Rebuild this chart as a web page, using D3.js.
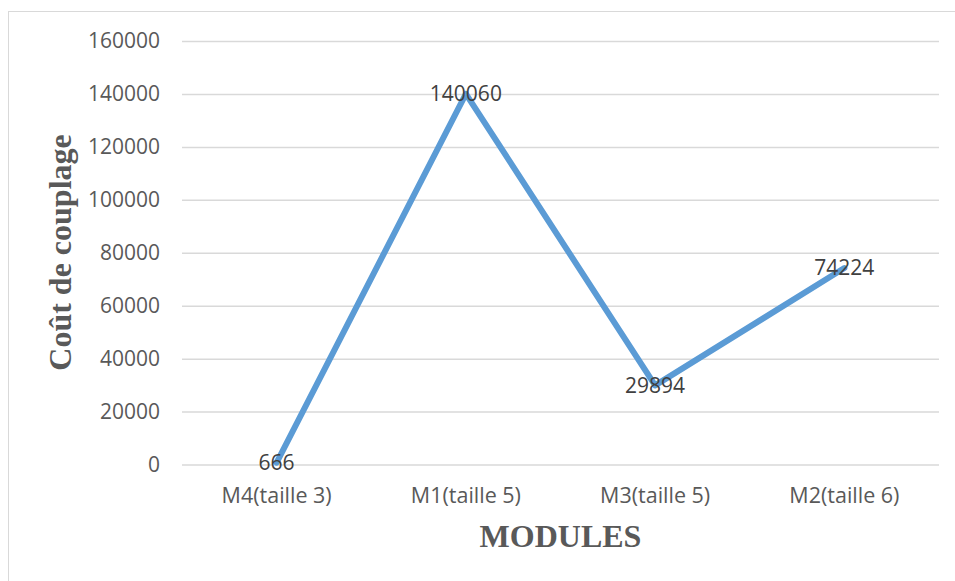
<!DOCTYPE html>
<html>
<head>
<meta charset="utf-8">
<script src="https://cdn.jsdelivr.net/npm/d3@7"></script>
<style>
  body { margin: 0; background: #fff; }
  svg { display: block; }
</style>
</head>
<body>
<script>
"use strict";
(function(){
    // chart values
    const modules = ["M4(taille 3)", "M1(taille 5)", "M3(taille 5)", "M2(taille 6)"]
    const couts = [666, 140060, 29894, 74224]
    const yTicks = [0, 20000, 40000, 60000, 80000, 100000, 120000, 140000, 160000]

    const measurements = {
        width: 955,
        height: 581,
        left: 182,
        right: 939,
        top: 41,
        bottom: 464.5
    }

    const svgContainer = d3.select('body').append('svg')
        .attr('width', measurements.width)
        .attr('height', measurements.height)

    // chart frame (only top and left edges are in view)
    svgContainer.append('rect')
        .attr('x', 8.5)
        .attr('y', 11.5)
        .attr('width', 1000)
        .attr('height', 700)
        .attr('fill', 'none')
        .attr('stroke', '#d9d9d9')
        .attr('stroke-width', 1)

    let scaleX = d3.scaleBand()
        .domain(modules)
        .range([measurements.left, measurements.right])

    let scaleY = d3.scaleLinear()
        .domain([0, 160000])
        .range([measurements.bottom, measurements.top])

    // gridlines
    let yAxis = d3.axisLeft(scaleY)
        .tickValues(yTicks)
        .tickSize(-(measurements.right - measurements.left))
        .tickPadding(22)
        .tickFormat(d3.format('d'))

    let gy = svgContainer.append('g')
        .attr('transform', 'translate(' + measurements.left + ',0)')
        .call(yAxis)
    gy.select('.domain').remove()
    gy.selectAll('.tick line')
        .attr('stroke', '#d9d9d9')
        .attr('stroke-width', 1.5)
    gy.selectAll('.tick text')
        .attr('fill', '#595959')
        .style('font-family', '"Open Sans", sans-serif')
        .style('font-size', '21px')

    let xAxis = d3.axisBottom(scaleX)
        .tickSize(0)
        .tickPadding(23)

    let gx = svgContainer.append('g')
        .attr('transform', 'translate(0,' + measurements.bottom + ')')
        .call(xAxis)
    gx.select('.domain').remove()
    gx.selectAll('.tick text')
        .attr('fill', '#595959')
        .style('font-family', '"Open Sans", sans-serif')
        .style('font-size', '21.5px')

    const xMap = (d, i) => scaleX(modules[i]) + scaleX.bandwidth() / 2
    const yMap = (d) => scaleY(d)

    let line = d3.line()
        .x(xMap)
        .y(yMap)

    svgContainer.append('path')
        .datum(couts)
        .attr('d', line)
        .attr('fill', 'none')
        .attr('stroke', '#5b9bd5')
        .attr('stroke-width', 6)
        .attr('stroke-linecap', 'round')
        .attr('stroke-linejoin', 'round')

    // data labels centred on the points
    svgContainer.selectAll('.label')
        .data(couts)
        .enter()
        .append('text')
            .attr('class', 'label')
            .attr('x', xMap)
            .attr('y', yMap)
            .attr('dy', '0.35em')
            .attr('text-anchor', 'middle')
            .attr('fill', '#404040')
            .style('font-family', '"Open Sans", sans-serif')
            .style('font-size', '21px')
            .text(d => d)

    // axis titles
    svgContainer.append('text')
        .attr('text-anchor', 'middle')
        .attr('x', 560.5)
        .attr('y', 547)
        .attr('fill', '#595959')
        .style('font-family', '"Liberation Serif", serif')
        .style('font-weight', 'bold')
        .style('font-size', '32px')
        .text('MODULES')

    svgContainer.append('text')
        .attr('text-anchor', 'middle')
        .attr('transform', 'translate(71,252.5) rotate(-90)')
        .attr('fill', '#595959')
        .style('font-family', '"Liberation Serif", serif')
        .style('font-weight', 'bold')
        .style('font-size', '32px')
        .text('Coût de couplage')
})()
</script>
</body>
</html>
